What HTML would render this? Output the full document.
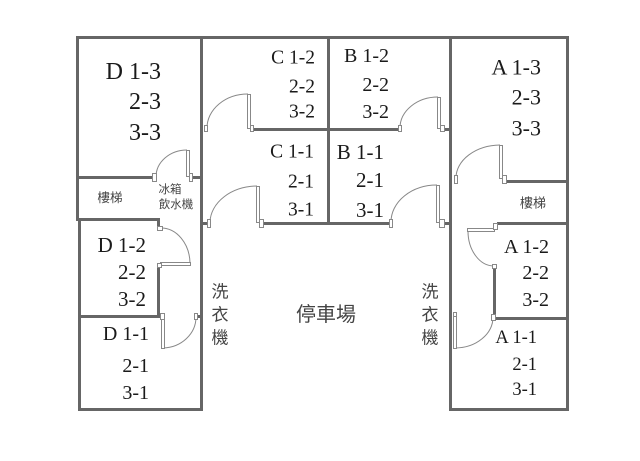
<!DOCTYPE html>
<html><head><meta charset="utf-8"><style>
html,body{margin:0;padding:0;background:#fff;}
svg{display:block;}
.w{fill:#666;}
.d{fill:#fff;stroke:#888;stroke-width:1;}
.a{fill:none;stroke:#888;stroke-width:1;}
.t{font-family:"Liberation Serif",serif;fill:#1a1a1a;text-anchor:end;dominant-baseline:central;}
.c{font-family:"Liberation Sans","Noto Sans CJK TC",sans-serif;fill:#444;text-anchor:middle;dominant-baseline:central;}
</style></head><body>
<svg width="640" height="461" viewBox="0 0 640 461" xmlns="http://www.w3.org/2000/svg">
<rect width="640" height="461" fill="#fff"/>
<!-- walls -->
<rect class="w" x="76" y="36" width="493" height="3"/>
<rect class="w" x="76" y="36" width="3" height="185"/>
<rect class="w" x="78" y="218" width="3" height="193"/>
<rect class="w" x="76" y="176" width="76" height="3"/>
<rect class="w" x="192" y="176" width="8" height="3"/>
<rect class="w" x="76" y="218" width="84" height="3"/>
<rect class="w" x="157" y="218" width="3" height="10"/>
<rect class="w" x="157" y="267" width="3" height="51"/>
<rect class="w" x="78" y="315" width="82" height="3"/>
<rect class="w" x="200" y="36" width="3" height="375"/>
<rect class="w" x="78" y="408" width="125" height="3"/>
<rect class="w" x="253" y="128" width="145" height="3"/>
<rect class="w" x="445" y="128" width="4" height="3"/>
<rect class="w" x="264" y="222" width="126" height="3"/>
<rect class="w" x="203" y="222" width="4" height="3"/>
<rect class="w" x="445" y="222" width="4" height="3"/>
<rect class="w" x="327" y="36" width="3" height="189"/>
<rect class="w" x="449" y="36" width="3" height="375"/>
<rect class="w" x="566" y="36" width="3" height="375"/>
<rect class="w" x="507" y="180" width="60" height="3"/>
<rect class="w" x="497" y="222" width="70" height="3"/>
<rect class="w" x="493" y="268" width="3" height="52"/>
<rect class="w" x="493" y="317" width="74" height="3"/>
<rect class="w" x="449" y="408" width="120" height="3"/>
<rect class="w" x="197" y="315" width="3" height="3"/>

<!-- doors -->
<!-- D stair -->
<path class="a" d="M156,177 A31,27 0 0 1 187,150"/>
<rect class="d" x="152.5" y="173.5" width="4" height="8"/>
<rect class="d" x="186.5" y="150.5" width="3" height="26"/>
<rect class="d" x="189.5" y="173.5" width="3" height="8"/>
<!-- D1-2 -->
<path class="a" d="M161,228 A29,36 0 0 1 190,263"/>
<rect class="d" x="157.5" y="226.5" width="5" height="4"/>
<rect class="d" x="160.5" y="262.5" width="30" height="3"/>
<rect class="d" x="157.5" y="263.5" width="4" height="4"/>
<!-- D1-1 -->
<path class="a" d="M163,348 A34,31 0 0 0 196,317"/>
<rect class="d" x="160.5" y="313.5" width="4" height="6"/>
<rect class="d" x="161.5" y="319.5" width="3" height="29"/>
<rect class="d" x="194.5" y="313.5" width="3" height="6"/>
<!-- C1-2 -->
<path class="a" d="M207,128 A41,34 0 0 1 248,94"/>
<rect class="d" x="204.5" y="125.5" width="3" height="6"/>
<rect class="d" x="247.5" y="94.5" width="3" height="34"/>
<rect class="d" x="250.5" y="125.5" width="3" height="6"/>
<!-- C1-1 -->
<path class="a" d="M210,222 A48,37 0 0 1 257,186"/>
<rect class="d" x="207.5" y="219.5" width="3" height="8"/>
<rect class="d" x="256.5" y="186.5" width="3" height="36"/>
<rect class="d" x="259.5" y="219.5" width="4" height="8"/>
<!-- B1-2 -->
<path class="a" d="M400,128 A38,31 0 0 1 438,97"/>
<rect class="d" x="398.5" y="125.5" width="3" height="6"/>
<rect class="d" x="437.5" y="97.5" width="3" height="31"/>
<rect class="d" x="440.5" y="125.5" width="4" height="6"/>
<!-- B1-1 -->
<path class="a" d="M391,222 A46,37 0 0 1 437,185"/>
<rect class="d" x="389.5" y="219.5" width="3" height="8"/>
<rect class="d" x="436.5" y="185.5" width="3" height="37"/>
<rect class="d" x="439.5" y="219.5" width="5" height="8"/>
<!-- A stair -->
<path class="a" d="M456,178 A45,33 0 0 1 500,145"/>
<rect class="d" x="454.5" y="175.5" width="3" height="8"/>
<rect class="d" x="499.5" y="145.5" width="3" height="33"/>
<rect class="d" x="502.5" y="175.5" width="4" height="8"/>
<!-- A1-2 -->
<path class="a" d="M468,231 A26,35 0 0 0 494,266"/>
<rect class="d" x="467.5" y="228.5" width="27" height="3"/>
<rect class="d" x="493.5" y="223.5" width="4" height="6"/>
<rect class="d" x="492.5" y="264.5" width="4" height="4"/>
<!-- A1-1 -->
<path class="a" d="M455,348 A38,31 0 0 0 493,317"/>
<rect class="d" x="453.5" y="312.5" width="3" height="4"/>
<rect class="d" x="453.5" y="316.5" width="3" height="32"/>
<rect class="d" x="491.5" y="314.5" width="4" height="6"/>

<!-- unit labels -->
<g class="t" font-size="24">
<text x="161" y="72">D 1-3</text><text x="161" y="102">2-3</text><text x="161" y="133">3-3</text>
</g>
<g class="t" font-size="21">
<text x="146" y="245">D 1-2</text><text x="146" y="272">2-2</text><text x="146" y="299">3-2</text>
</g>
<g class="t" font-size="20">
<text x="149" y="334">D 1-1</text><text x="149" y="366">2-1</text><text x="149" y="393">3-1</text>
</g>
<g class="t" font-size="19.5">
<text x="315" y="58">C 1-2</text><text x="315" y="87">2-2</text><text x="315" y="112">3-2</text>
<text x="314" y="152">C 1-1</text><text x="314" y="182">2-1</text><text x="314" y="210">3-1</text>
</g>
<g class="t" font-size="20">
<text x="389" y="56">B 1-2</text><text x="389" y="85">2-2</text><text x="389" y="112">3-2</text>
</g>
<g class="t" font-size="21">
<text x="384" y="152">B 1-1</text><text x="384" y="180">2-1</text><text x="384" y="210">3-1</text>
</g>
<g class="t" font-size="22">
<text x="541" y="67">A 1-3</text><text x="541" y="97">2-3</text><text x="541" y="128">3-3</text>
</g>
<g class="t" font-size="20">
<text x="549" y="247">A 1-2</text><text x="549" y="273">2-2</text><text x="549" y="300">3-2</text>
</g>
<g class="t" font-size="18.5">
<text x="537" y="338">A 1-1</text><text x="537" y="365">2-1</text><text x="537" y="390">3-1</text>
</g>

<!-- chinese labels -->
<text class="c" x="110" y="198" font-size="12.5">樓梯</text>
<text class="c" x="170" y="190" font-size="11.5">冰箱</text>
<text class="c" x="176" y="205" font-size="11.5">飲水機</text>
<text class="c" x="533" y="203" font-size="13">樓梯</text>
<g class="c" font-size="17">
<text x="220" y="292">洗</text><text x="220" y="315">衣</text><text x="220" y="338">機</text>
<text x="430" y="292">洗</text><text x="430" y="315">衣</text><text x="430" y="338">機</text>
</g>
<text class="c" x="326" y="315" font-size="20">停車場</text>
</svg>
</body></html>
